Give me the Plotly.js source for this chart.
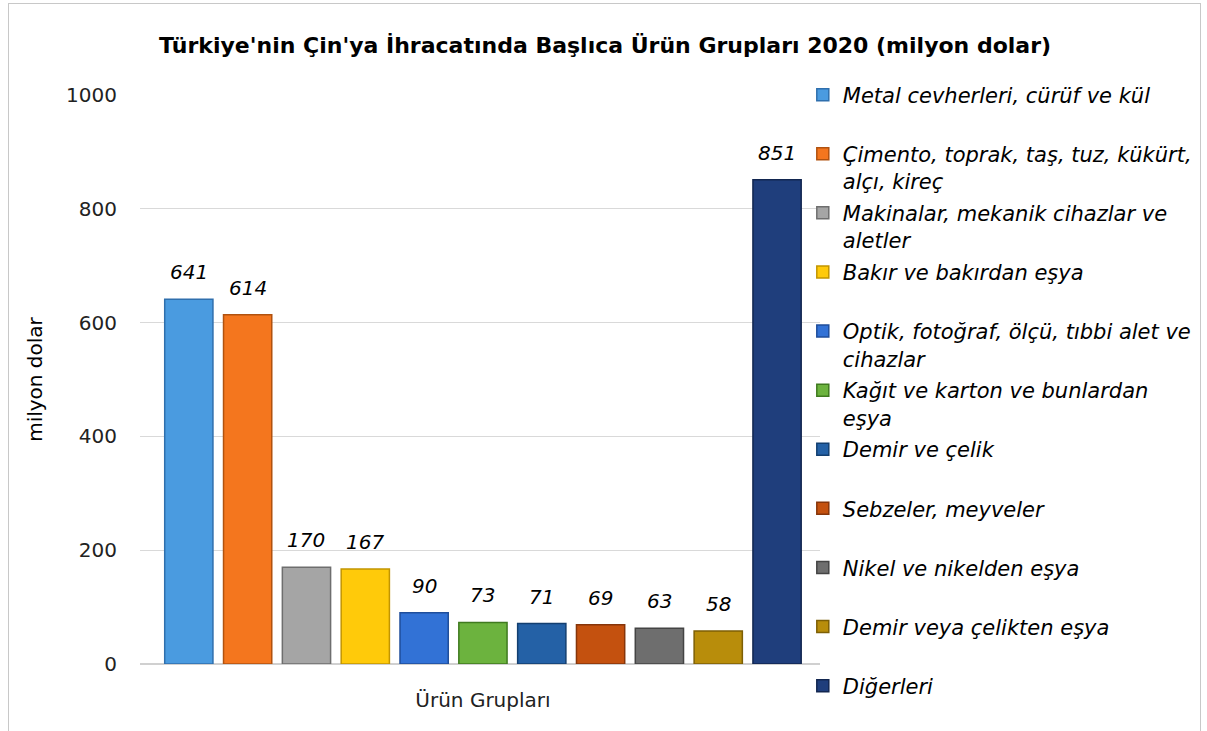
<!DOCTYPE html>
<html>
<head>
<meta charset="utf-8">
<script src="https://cdn.plot.ly/plotly-3.0.1.min.js"></script>
<style>
  html, body { margin: 0; padding: 0; background: #fff; }
  #chart { width: 1207px; height: 731px; }
  #frame { position: absolute; left: 8px; top: 3px; width: 1191px; height: 740px;
           border: 1px solid #c8c8c8; pointer-events: none; }
</style>
</head>
<body>
<div id="chart"></div>
<div id="frame"></div>
<script>
const categories = [
  "Metal cevherleri, cürüf ve kül",
  "Çimento, toprak, taş, tuz, kükürt,<br>alçı, kireç",
  "Makinalar, mekanik cihazlar ve<br>aletler",
  "Bakır ve bakırdan eşya",
  "Optik, fotoğraf, ölçü, tıbbi alet ve<br>cihazlar",
  "Kağıt ve karton ve bunlardan<br>eşya",
  "Demir ve çelik",
  "Sebzeler, meyveler",
  "Nikel ve nikelden eşya",
  "Demir veya çelikten eşya",
  "Diğerleri"
];
const values = [641, 614, 170, 167, 90, 73, 71, 69, 63, 58, 851];
const fillColors = ["#4a9be0", "#f4761e", "#a5a5a5", "#ffca0a", "#3272d6", "#6cb33e",
                    "#2461a6", "#c4510f", "#6e6e6e", "#b88d0b", "#1f3e7c"];
const lineColors = ["#2f6fad", "#b1520f", "#6e6e6e", "#c29500", "#1f4e9b", "#3f7a1f",
                    "#133f70", "#86350a", "#444444", "#7d5f05", "#122650"];
const xTickLabel = ["Ürün Grupları"];
const yTicks = [0, 200, 400, 600, 800, 1000];

const FONT = "DejaVu Sans";
const last = categories.length - 1;

const traces = categories.map((name, i) => ({
  type: "bar",
  x: [i],
  y: [values[i]],
  width: 0.82,
  name: (name.includes("<br>") || i === last) ? name : name + "<br>\u00a0",
  legendgroup: "g" + i,
  marker: { color: fillColors[i], line: { color: lineColors[i], width: 1.5 } },
  hoverinfo: "y+name"
}));

const annotations = values.map((v, i) => ({
  x: i, y: v, xref: "x", yref: "y",
  text: String(v),
  showarrow: false,
  yanchor: "middle",
  yshift: 27,
  font: { family: FONT, size: 20, color: "#000", style: "italic" }
}));

const layout = {
  width: 1207, height: 731,
  paper_bgcolor: "#fff", plot_bgcolor: "#fff",
  margin: { l: 140, r: 387, t: 95, b: 67, autoexpand: false },
  title: {
    text: "<b>Türkiye'nin Çin'ya İhracatında Başlıca Ürün Grupları 2020 (milyon dolar)</b>",
    font: { family: FONT, size: 22, color: "#000" },
    x: 605 / 1207, xref: "container", xanchor: "center",
    y: 1 - 45 / 731, yref: "container", yanchor: "middle"
  },
  showlegend: true,
  legend: {
    x: 0.9747, xanchor: "left", y: 1.036, yanchor: "top",
    font: { family: FONT, size: 21, color: "#000", style: "italic" },
    valign: "top",
    tracegroupgap: 1.5,
    itemwidth: 30,
    maxheight: 2000,
    bgcolor: "rgba(0,0,0,0)"
  },
  bargap: 0,
  xaxis: {
    range: [-0.83, 10.73],
    tickvals: [5],
    ticktext: xTickLabel,
    ticks: "",
    showgrid: false,
    zeroline: false,
    showline: false,
    ticklabelstandoff: 22,
    tickfont: { family: FONT, size: 20, color: "#222" },
    fixedrange: true
  },
  yaxis: {
    range: [0, 1000],
    tickvals: yTicks,
    ticks: "",
    showgrid: true,
    gridcolor: "#d9d9d9",
    gridwidth: 1.3,
    zeroline: true,
    zerolinecolor: "#d0d0d0",
    zerolinewidth: 1.3,
    showline: false,
    ticklabelstandoff: 22,
    tickfont: { family: FONT, size: 20, color: "#222" },
    title: { text: "milyon dolar", font: { family: FONT, size: 20, color: "#000" }, standoff: 18 },
    fixedrange: true
  },
  annotations: annotations
};

Plotly.newPlot("chart", traces, layout, { displayModeBar: false, staticPlot: true });
</script>
</body>
</html>
